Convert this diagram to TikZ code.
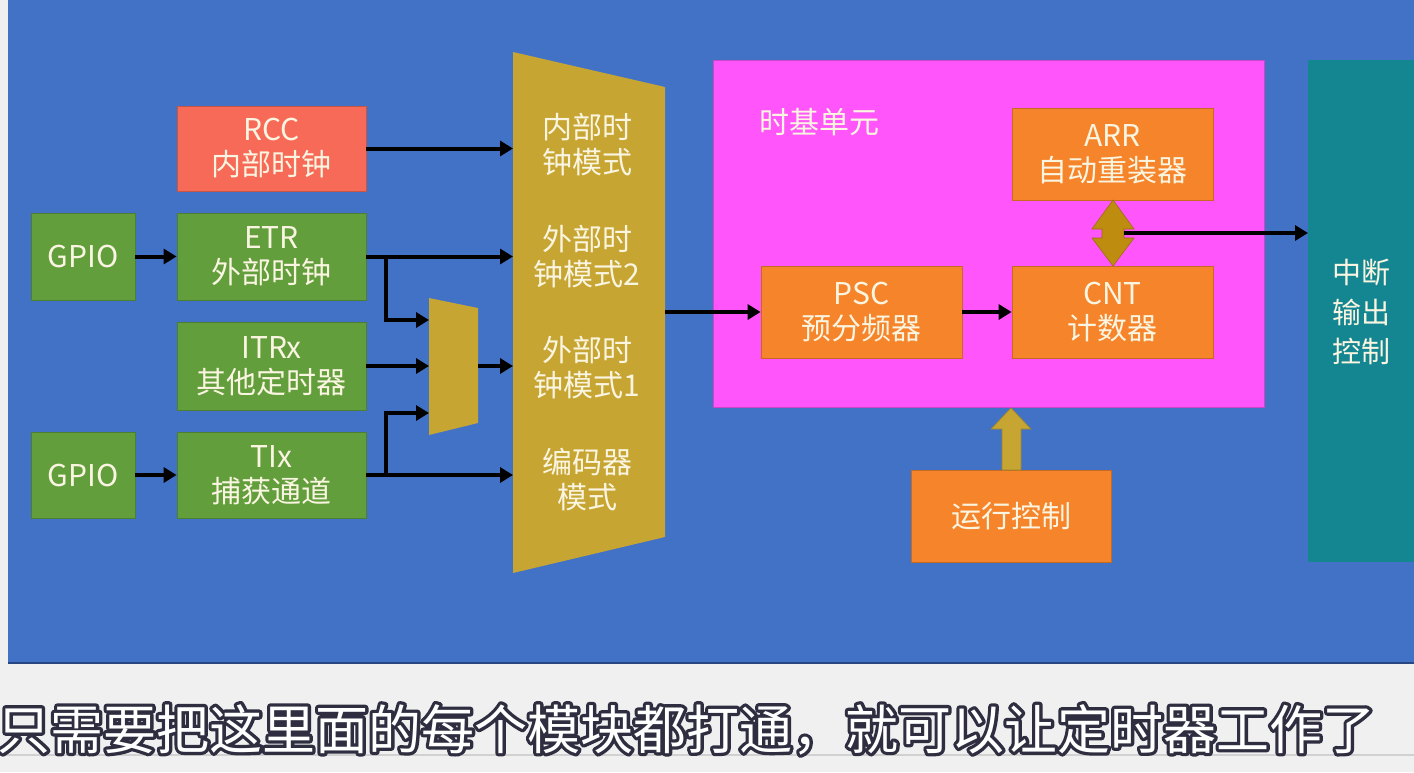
\documentclass[tikz,border=0pt]{standalone}
\usepackage{fontspec}
\setmainfont{Noto Sans CJK SC}
\usetikzlibrary{arrows.meta}
\definecolor{bgc}{RGB}{66,114,198}
\definecolor{bgdark}{RGB}{40,70,130}
\definecolor{pagec}{RGB}{240,240,240}
\definecolor{rccc}{RGB}{248,106,88}
\definecolor{grnc}{RGB}{98,158,60}
\definecolor{goldc}{RGB}{199,165,50}
\definecolor{dgoldc}{RGB}{190,140,15}
\definecolor{magc}{RGB}{255,85,250}
\definecolor{orgc}{RGB}{245,132,42}
\definecolor{tealc}{RGB}{20,134,146}
\definecolor{txtc}{RGB}{250,245,225}
\newcommand{\subtext}{只需要把这里面的每个模块都打通，就可以让定时器工作了}
\begin{document}
\begin{tikzpicture}[x=1pt,y=-1pt,
  cn/.style={text=txtc, font=\fontsize{30}{35}\selectfont, align=center, inner sep=0pt},
  blk/.style={cn, draw=#1!80!black, fill=#1, line width=0.8pt},
  arr/.style={-{Triangle[length=13pt,width=15pt]}, line width=4pt, draw=black, line join=miter},
  subt/.style={font=\fontsize{53}{56}\selectfont, inner sep=0pt, anchor=base west}
]
\useasboundingbox (0,0) rectangle (1414,772);
\fill[pagec] (0,0) rectangle (1414,772);
\fill[bgc] (8,0) rectangle (1414,662);
\draw[bgdark, line width=2pt] (8,663) -- (1414,663);
\draw[black!18, line width=1.5pt] (0,755) -- (1414,755);

% left blocks
\node[blk=rccc, minimum width=189pt, minimum height=85pt] (rcc) at (271.5,148.5) {RCC\\内部时钟};
\node[blk=grnc, minimum width=104pt, minimum height=87pt] (gpio1) at (83,256.5) {GPIO};
\node[blk=grnc, minimum width=189pt, minimum height=87pt] (etr) at (271.5,256.5) {ETR\\外部时钟};
\node[blk=grnc, minimum width=189pt, minimum height=88pt] (itr) at (271.5,366) {ITRx\\其他定时器};
\node[blk=grnc, minimum width=104pt, minimum height=86pt] (gpio2) at (83,475) {GPIO};
\node[blk=grnc, minimum width=189pt, minimum height=86pt] (tix) at (271.5,475) {TIx\\捕获通道};

% small mux
\fill[goldc] (429,298) -- (478,308) -- (478,423) -- (429,435) -- cycle;
\coordinate (sm1) at (429,320);
\coordinate (sm2) at (429,366);
\coordinate (sm3) at (429,413);
\coordinate (smo) at (478,366);

% big mux
\fill[goldc] (513,52) -- (665,87) -- (665,537) -- (513,573) -- cycle;
\coordinate (bm1) at (513,148.5);
\coordinate (bm2) at (513,256.5);
\coordinate (bm3) at (513,366);
\coordinate (bm4) at (513,475);
\coordinate (bmo) at (665,312);
\node[cn] (m1) at (587,145) {内部时\\钟模式};
\node[cn] (m2) at (587,257) {外部时\\钟模式2};
\node[cn] (m3) at (587,368) {外部时\\钟模式1};
\node[cn] (m4) at (587,480) {编码器\\模式};

% time base unit
\node[draw=magc!80!black, fill=magc, line width=0.8pt, minimum width=551pt, minimum height=347pt, inner sep=0pt] (tb) at (988.5,233.5) {};
\node[cn, anchor=west] (tbl) at (759,122) {时基单元};
\node[blk=orgc, minimum width=201pt, minimum height=92pt] (arrb) at (1112.5,154) {ARR\\自动重装器};
\node[blk=orgc, minimum width=201pt, minimum height=92pt] (psc) at (861.5,312) {PSC\\预分频器};
\node[blk=orgc, minimum width=201pt, minimum height=92pt] (cnt) at (1112.5,312) {CNT\\计数器};

% interrupt output control
\fill[tealc] (1308,60) rectangle (1414,562);
\node[cn, font=\fontsize{29}{39.5}\selectfont] (intr) at (1361,312) {中断\\输出\\控制};
\coordinate (intl) at (1308,233);

% run control
\node[blk=orgc, minimum width=200pt, minimum height=92pt] (run) at (1011,516) {运行控制};

% double arrow ARR <-> CNT
\fill[dgoldc, draw=dgoldc!80!black, line width=0.6pt]
  (1113,200) -- (1134,229) -- (1124,229) -- (1124,238) -- (1134,238) -- (1113,266)
  -- (1092,238) -- (1102,238) -- (1102,229) -- (1092,229) -- cycle;
\coordinate (dbl) at (1124,233);

% up arrow run -> time base
\fill[goldc, draw=goldc!80!black, line width=0.6pt]
  (1002,470) -- (1002,429) -- (991,429) -- (1011,408) -- (1031,429) -- (1021,429) -- (1021,470) -- cycle;

% connectors
\draw[arr] (rcc.east) -- (bm1);
\draw[arr] (gpio1.east) -- (etr.west);
\draw[arr] (etr.east) -- (bm2);
\draw[arr] ([xshift=20pt]etr.east) |- (sm1);
\draw[arr] (itr.east) -- (sm2);
\draw[arr] (smo) -- (bm3);
\draw[arr] (gpio2.east) -- (tix.west);
\draw[arr] (tix.east) -- (bm4);
\draw[arr] ([xshift=20pt]tix.east) |- (sm3);
\draw[arr] (bmo) -- (psc.west);
\draw[arr] (psc.east) -- (cnt.west);
\draw[arr] (dbl) -- (intl);

% subtitle (outlined text)
\node[subt, text=white] (sub) at (-3,749) {\rlap{\special{pdf:literal direct 1 Tr 6.5 w 1 J 1 j 0.18 0.18 0.25 RG}\subtext\special{pdf:literal direct 0 Tr}}\subtext};
\end{tikzpicture}
\end{document}
